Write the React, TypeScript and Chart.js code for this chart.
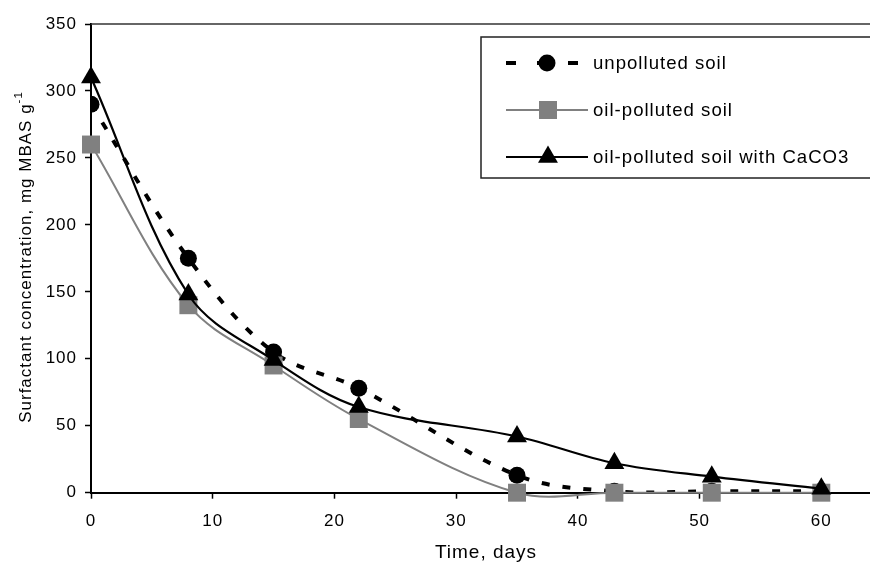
import React, { useEffect, useRef } from 'react';
import { Chart, registerables } from 'chart.js';

Chart.register(...registerables);

const days = [0, 8, 15, 22, 35, 43, 51, 60];
const unpolluted = [290, 175, 105, 78, 13, 1, 1, 1];
const oilPolluted = [260, 140, 95, 55, 0, 0, 0, 0];
const oilCaCO3 = [310, 148, 99, 64, 42, 22, 12, 3];
const xTickValues = [0, 10, 20, 30, 40, 50, 60];
const seriesLabels = ['unpolluted soil', 'oil-polluted soil', 'oil-polluted soil with CaCO3'];
const xTitle = 'Time, days';
const yTitle = 'Surfactant concentration, mg MBAS g';
const yTitleSup = '-1';

const FONT = "'Liberation Sans', Arial, sans-serif";
const LS = '1px';
const GRAY = '#808080';

const toXY = (vals: number[]) => days.map((d, i) => ({ x: d, y: vals[i] }));

function drawMarker(ctx: CanvasRenderingContext2D, kind: string, x: number, y: number, color: string) {
  ctx.save();
  ctx.fillStyle = color;
  ctx.beginPath();
  if (kind === 'circle') {
    ctx.arc(x, y, 8.5, 0, Math.PI * 2);
  } else if (kind === 'rect') {
    ctx.rect(x - 9, y - 9, 18, 18);
  } else {
    const r = 11.5;
    ctx.moveTo(x, y - r);
    ctx.lineTo(x + r * 0.866, y + r / 2);
    ctx.lineTo(x - r * 0.866, y + r / 2);
    ctx.closePath();
  }
  ctx.fill();
  ctx.restore();
}

const customPlugin = {
  id: 'customDecor',
  beforeUpdate(chart: any) {
    chart.ctx.letterSpacing = LS;
  },
  beforeDraw(chart: any) {
    chart.ctx.letterSpacing = LS;
  },
  afterDraw(chart: any) {
    const ctx: CanvasRenderingContext2D = chart.ctx;
    const area = chart.chartArea;
    ctx.save();
    (ctx as any).letterSpacing = LS;
    // top frame line
    ctx.strokeStyle = '#333';
    ctx.lineWidth = 1.5;
    ctx.beginPath();
    ctx.moveTo(area.left, area.top);
    ctx.lineTo(area.right, area.top);
    ctx.stroke();

    // legend box
    ctx.fillStyle = '#fff';
    ctx.fillRect(481, 37, 430, 141);
    ctx.strokeStyle = '#222';
    ctx.lineWidth = 1.5;
    ctx.strokeRect(481, 37, 430, 141);

    const rows = [63, 110, 157];
    const styles = [
      { color: '#000', width: 4, dash: [10, 21], marker: 'circle', mx: 547 },
      { color: GRAY, width: 2, dash: [], marker: 'rect', mx: 548 },
      { color: '#000', width: 2, dash: [], marker: 'triangle', mx: 548 },
    ];
    styles.forEach((s, i) => {
      const y = rows[i];
      ctx.save();
      ctx.strokeStyle = s.color;
      ctx.lineWidth = s.width;
      ctx.setLineDash(s.dash);
      ctx.beginPath();
      ctx.moveTo(506, y);
      ctx.lineTo(588, y);
      ctx.stroke();
      ctx.restore();
      drawMarker(ctx, s.marker, s.mx, y, s.color);
      ctx.fillStyle = '#000';
      ctx.font = `18.6px ${FONT}`;
      ctx.textAlign = 'left';
      ctx.textBaseline = 'middle';
      ctx.fillText(seriesLabels[i], 593, y + 1);
    });

    // x title
    ctx.fillStyle = '#000';
    ctx.font = `19px ${FONT}`;
    ctx.textAlign = 'center';
    ctx.textBaseline = 'middle';
    ctx.fillText(xTitle, 486, 553);

    // y title with superscript
    ctx.save();
    ctx.translate(26, 257);
    ctx.rotate(-Math.PI / 2);
    ctx.font = `17px ${FONT}`;
    const wMain = ctx.measureText(yTitle).width;
    ctx.font = `11.5px ${FONT}`;
    const wSup = ctx.measureText(yTitleSup).width;
    const start = -(wMain + wSup) / 2;
    ctx.textAlign = 'left';
    ctx.textBaseline = 'middle';
    ctx.font = `17px ${FONT}`;
    ctx.fillText(yTitle, start, 0);
    ctx.font = `11.5px ${FONT}`;
    ctx.fillText(yTitleSup, start + wMain, -7);
    ctx.restore();

    ctx.restore();
  },
};

export default function App() {
  const canvasRef = useRef<HTMLCanvasElement | null>(null);

  useEffect(() => {
    if (!canvasRef.current) return;
    const axisCommon = {
      grid: {
        display: true,
        drawOnChartArea: false,
        drawTicks: true,
        tickLength: 6,
        tickColor: '#000',
        tickWidth: 1.5,
      },
      border: { display: true, color: '#000', width: 2 },
    };
    const chart = new Chart(canvasRef.current, {
      type: 'line',
      data: {
        datasets: [
          {
            label: seriesLabels[0],
            data: toXY(unpolluted),
            borderColor: '#000',
            backgroundColor: '#000',
            borderWidth: 4,
            borderDash: [8, 13],
            pointStyle: 'circle',
            pointRadius: 8.5,
            pointBackgroundColor: '#000',
            pointBorderWidth: 0,
            tension: 0.35,
            fill: false,
            order: 2,
          },
          {
            label: seriesLabels[1],
            data: toXY(oilPolluted),
            borderColor: GRAY,
            backgroundColor: GRAY,
            borderWidth: 2,
            pointStyle: 'rect',
            pointRadius: 12.7,
            pointBackgroundColor: GRAY,
            pointBorderWidth: 0,
            tension: 0.35,
            fill: false,
            clip: false,
            order: 1,
          },
          {
            label: seriesLabels[2],
            data: toXY(oilCaCO3),
            borderColor: '#000',
            backgroundColor: '#000',
            borderWidth: 2.2,
            pointStyle: 'triangle',
            pointRadius: 11.5,
            pointBackgroundColor: '#000',
            pointBorderWidth: 0,
            tension: 0.35,
            fill: false,
            clip: false,
            order: 0,
          },
        ] as any,
      },
      options: {
        animation: false,
        responsive: false,
        events: [],
        layout: { autoPadding: false, padding: { top: 24, left: 0, right: 0, bottom: 0 } } as any,
        elements: { line: { capBezierPoints: false } as any },
        plugins: {
          legend: { display: false },
          tooltip: { enabled: false },
          title: { display: false },
        },
        scales: {
          x: {
            type: 'linear',
            min: 0,
            max: 64,
            ...axisCommon,
            afterBuildTicks: (s: any) => {
              s.ticks = xTickValues.map((v) => ({ value: v }));
            },
            afterFit: (s: any) => {
              s.height = 73.3;
              s.paddingRight = 0;
              s.paddingLeft = 0;
            },
            ticks: {
              color: '#000',
              font: { family: FONT, size: 17 },
              padding: 12,
              maxRotation: 0,
              autoSkip: false,
            },
          },
          y: {
            type: 'linear',
            min: 0,
            max: 350,
            ...axisCommon,
            afterFit: (s: any) => {
              s.width = 91;
              s.paddingTop = 0;
              s.paddingBottom = 0;
            },
            ticks: {
              stepSize: 50,
              color: '#000',
              font: { family: FONT, size: 17 },
              padding: 8,
            },
          },
        } as any,
      },
      plugins: [customPlugin],
    });
    return () => chart.destroy();
  }, []);

  return (
    <div style={{ position: 'absolute', left: 0, top: 0, width: 870, height: 566, background: '#fff' }}>
      <canvas ref={canvasRef} width={870} height={566} style={{ display: 'block', width: 870, height: 566 }} />
    </div>
  );
}
